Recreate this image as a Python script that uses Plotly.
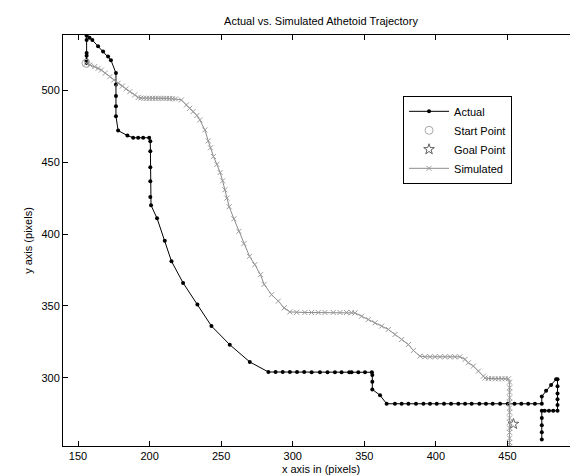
import plotly.graph_objects as go

# ---- data ----
actual_x = [156, 156, 156, 156, 156, 156, 158, 160, 164, 167.5, 171, 173, 176.5, 176.5, 176.5, 176.5, 176.5,
            178, 184.5, 188.5, 192, 195.5, 199.7, 200.5, 200.5, 200.5, 200.5, 200.5, 201, 205.2, 210.6, 215.3,
            223.4, 233.4, 243.2, 256, 270, 283, 288, 293, 298, 303, 308, 313.2, 319, 324.3, 329.5, 334.1,
            339.5, 341.1, 345.8, 350.5, 355.3, 355.6, 355.6, 355.6, 361, 365.6, 371.4, 376.1, 380.8, 386.1,
            391.3, 395.9, 400.6, 405.7, 410.6, 415.7, 420.4, 425, 430.4, 435, 439.7, 444.9, 450.2, 455, 459.7,
            464.5, 469.2, 474, 474, 477, 480.5, 484, 485, 485, 485, 485, 485, 485, 482, 479, 476, 474, 474,
            474, 474, 474]
actual_y = [519, 521, 524, 526, 535, 538, 536.5, 535, 530.6, 527, 523.6, 521, 512, 504, 496, 489, 482,
            472, 468.5, 467, 467, 467, 467, 464.6, 457.6, 446.5, 436.8, 425.7, 420, 411, 395.4, 381,
            366, 351, 336, 323, 311, 304, 304, 304, 304, 304, 304, 303.8, 303.8, 303.8, 303.8, 303.8,
            303.8, 303.8, 303.8, 303.8, 303.8, 301.9, 297.2, 291.9, 287.8, 281.9, 281.9, 281.9, 281.9, 281.9,
            281.9, 281.9, 281.9, 281.9, 281.9, 281.9, 281.9, 281.9, 281.9, 281.9, 281.9, 281.9, 281.9, 281.9, 281.9,
            281.9, 281.9, 281.9, 287, 291, 295, 299, 299, 294, 289, 285, 281, 277, 277, 277, 277, 277, 272,
            267, 262, 257]

sim_x = [155.8, 158.5, 161.7, 164, 166.3, 169, 172.2, 175, 178, 181, 183.5, 186.2, 189.6, 192, 194, 196,
         198, 200, 202, 204, 206, 208, 210, 212, 214, 216, 218, 222.2, 225.7, 228, 230.4, 233, 235.1,
         238.6, 241, 242.5, 244.6, 247, 249.3, 251, 252.6, 254, 255.6, 258.9, 262.4, 265.9, 269.8, 273.5,
         277.5, 280, 285.2, 289.9, 294, 298, 302.7, 308.5, 313.2, 317.8, 322.5, 328.3, 333, 337.6, 341.1,
         343.5, 348.1, 352.8, 357.5, 362.1, 366.8, 371.5, 376.1, 380.8, 384.3, 388.9, 392.4, 395.9, 399.4,
         402.9, 406.4, 409.9, 413.3, 416.8, 420.4, 422.7, 426.2, 429.7, 433.2, 434.4, 436.7, 439.1, 441.4,
         443.7, 446.1, 448.4, 450.7, 451.5, 451.5, 451.5, 451.5, 451.5, 451.5, 451.5, 451.5, 451.5, 451.5,
         451.5, 451.5, 451.5, 451.5]
sim_y = [518.8, 517.6, 516.5, 515.3, 514.1, 512, 509.5, 507.2, 504.9, 503, 501, 499.1, 496.8, 495, 494.6,
         494.5, 494.4, 494.4, 494.4, 494.4, 494.4, 494.4, 494.4, 494.4, 494.3, 494.2, 494, 493.3, 489.8,
         487.5, 485.2, 482.5, 479.4, 472.4, 464.8, 460, 454, 448.5, 442.8, 437, 430.8, 425, 419, 410.6,
         401.9, 393.3, 384.5, 378.7, 371.7, 365, 357.8, 353.3, 348.6, 345.8, 345.5, 345.4, 345.4, 345.4,
         345.4, 345.4, 345.4, 345.4, 345.3, 345.1, 342.8, 340.5, 338.2, 335.9, 333.6, 330.1, 326.6, 323.1,
         319, 315, 314.6, 314.6, 314.6, 314.6, 314.6, 314.6, 314.6, 314.6, 312.8, 310.4, 308.1, 304.6,
         301.1, 299.8, 299.5, 299.4, 299.3, 299.3, 299.3, 299.3, 299.3, 297, 293, 290, 286, 283, 279, 276,
         272, 269, 265, 262, 258, 255, 252]

start_x = [155.6]
start_y = [518.8]
goal_x = [454.2]
goal_y = [267.8]

x_ticks = [150, 200, 250, 300, 350, 400, 450, 500]
y_ticks = [300, 350, 400, 450, 500]

FONT = "Liberation Sans, Arial, sans-serif"

fig = go.Figure()
fig.add_trace(go.Scatter(
    x=actual_x, y=actual_y, mode="lines+markers", name="Actual",
    line=dict(color="black", width=1),
    marker=dict(symbol="circle", size=4, color="black"),
))
fig.add_trace(go.Scatter(
    x=start_x, y=start_y, mode="markers", name="Start Point",
    marker=dict(symbol="circle-open", size=8, color="#a8a8a8", line=dict(width=1)),
))
fig.add_trace(go.Scatter(
    x=goal_x, y=goal_y, mode="markers", name="Goal Point",
    marker=dict(symbol="star-open", size=8, color="#606060", line=dict(width=1)),
))
fig.add_trace(go.Scatter(
    x=sim_x, y=sim_y, mode="lines+markers", name="Simulated",
    line=dict(color="#8c8c8c", width=1),
    marker=dict(symbol="x-thin", size=5, color="#9a9a9a", line=dict(width=1, color="#9a9a9a")),
))

axis_common = dict(
    showline=True, linecolor="black", linewidth=1, mirror="allticks",
    ticks="inside", ticklen=5, tickcolor="black", showgrid=False, zeroline=False,
    tickfont=dict(family=FONT, size=11, color="black"),
)

fig.update_layout(
    width=578, height=476,
    margin=dict(l=55, r=7, t=27, b=38),
    paper_bgcolor="white", plot_bgcolor="white",
    title=dict(text="Actual vs. Simulated Athetoid Trajectory", x=0.5, xref="paper",
               y=1 - 13 / 476, yanchor="middle",
               font=dict(family=FONT, size=11, color="black")),
    xaxis=dict(range=[139.5, 500], tickvals=x_ticks, title=dict(text="x axis in (pixels)", standoff=4,
               font=dict(family=FONT, size=11, color="black")), **axis_common),
    yaxis=dict(range=[252.5, 538.5], tickvals=y_ticks, title=dict(text="y axis (pixels)", standoff=6,
               font=dict(family=FONT, size=11, color="black")), **axis_common),
    legend=dict(x=0.659, y=0.852, xanchor="left", yanchor="top",
                bordercolor="black", borderwidth=1, bgcolor="white",
                font=dict(family=FONT, size=11, color="black"),
                itemwidth=40, tracegroupgap=0),
    showlegend=True,
)

fig.write_html("out.html")
